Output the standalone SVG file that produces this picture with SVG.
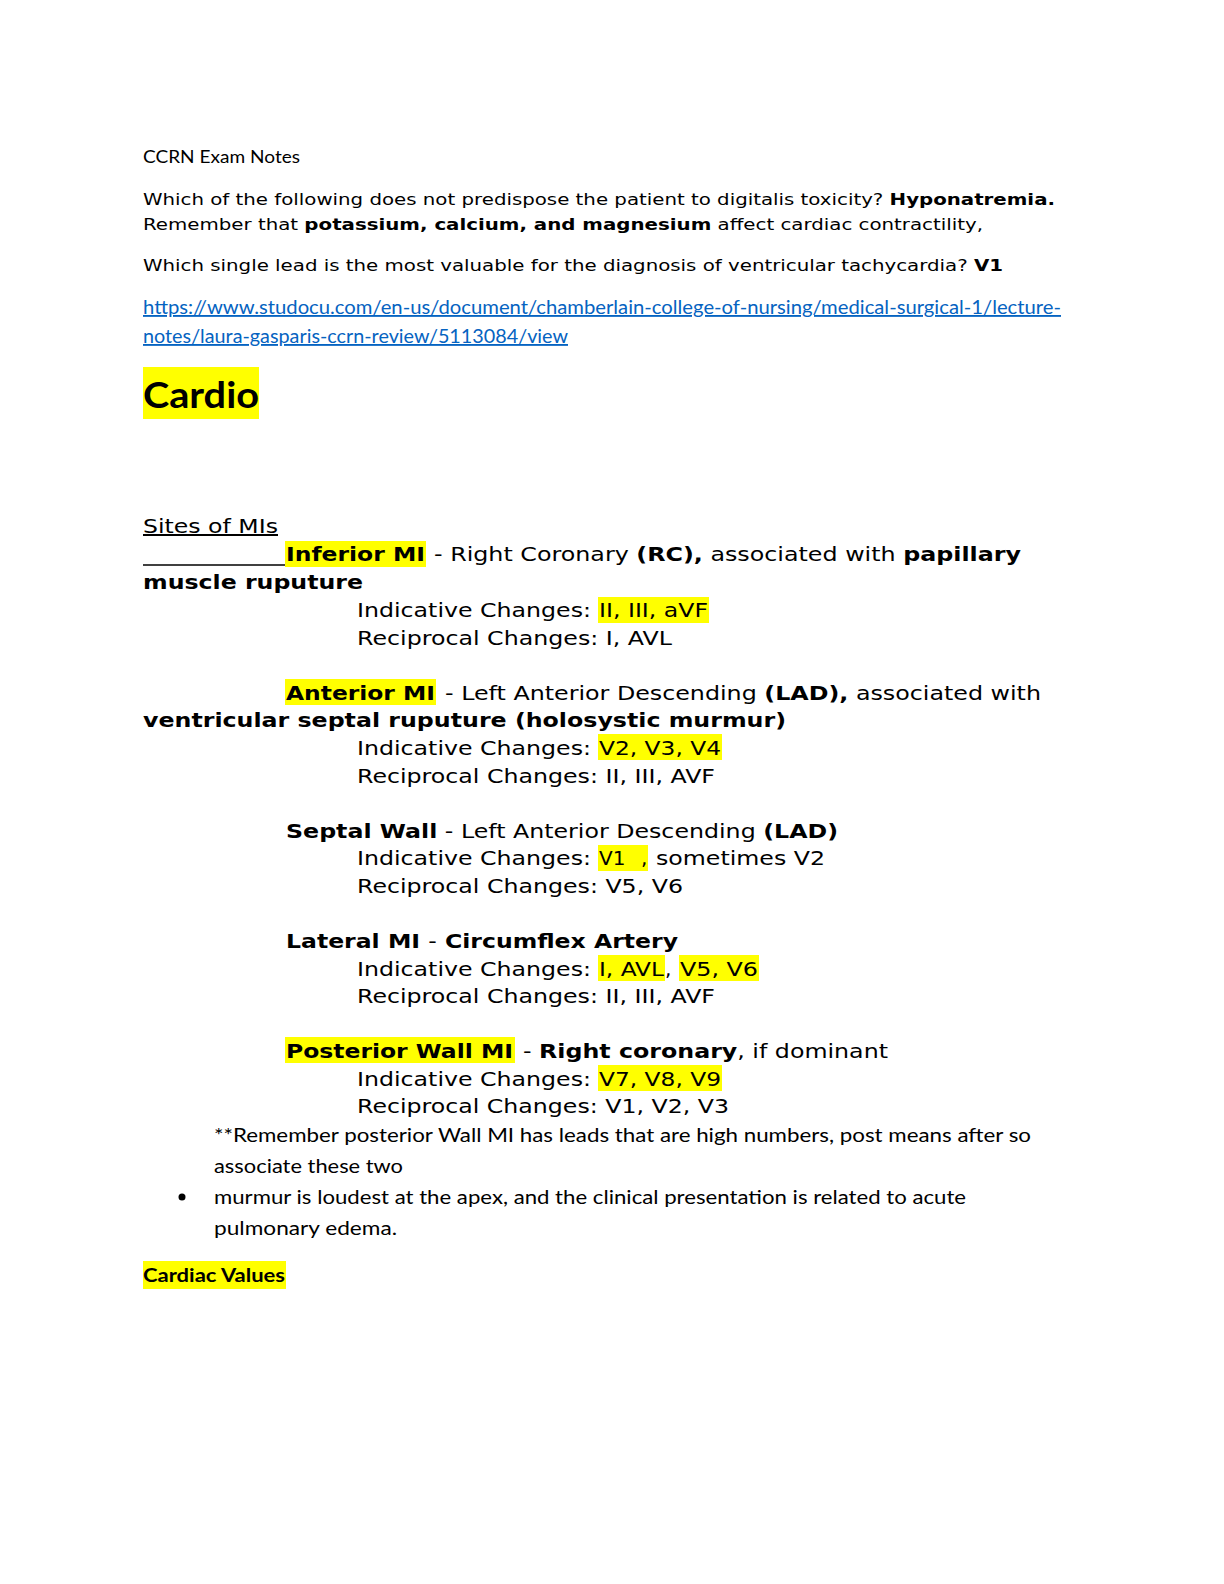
<svg xmlns="http://www.w3.org/2000/svg" width="1224" height="1584" viewBox="0 0 1224 1584">
<style>
.b{font-family:"DejaVu Sans",Verdana,sans-serif;font-size:16px;fill:#000}
.m{font-family:"DejaVu Sans",Verdana,sans-serif;font-size:20px;fill:#000}
.c{font-family:Lato,Carlito,"Liberation Sans",sans-serif;fill:#000}
.bold{font-weight:bold}
.hl{fill:#ffff00}
</style>
<rect width="1224" height="1584" fill="#fff"/>
<text class="c" x="143" y="163" font-size="17" textLength="157" lengthAdjust="spacingAndGlyphs">CCRN Exam Notes</text>
<text class="b" x="143" y="205" textLength="912" lengthAdjust="spacingAndGlyphs">Which of the following does not predispose the patient to digitalis toxicity? <tspan class="bold">Hyponatremia.</tspan></text>
<text class="b" x="143" y="230" textLength="840" lengthAdjust="spacingAndGlyphs">Remember that <tspan class="bold">potassium, calcium, and magnesium</tspan> affect cardiac contractility,</text>
<text class="b" x="143" y="271" textLength="860" lengthAdjust="spacingAndGlyphs">Which single lead is the most valuable for the diagnosis of ventricular tachycardia? <tspan class="bold">V1</tspan></text>
<g fill="#0563c1" font-family="Lato,Carlito,sans-serif" font-size="18.5" text-decoration="underline">
<text x="143" y="314" textLength="918" lengthAdjust="spacingAndGlyphs">https://www.studocu.com/en-us/document/chamberlain-college-of-nursing/medical-surgical-1/lecture-</text>
<text x="143" y="343" textLength="425" lengthAdjust="spacingAndGlyphs">notes/laura-gasparis-ccrn-review/5113084/view</text>
</g>
<rect class="hl" x="143" y="367" width="116" height="52"/>
<text class="c bold" x="143" y="408" font-size="37" textLength="116" lengthAdjust="spacingAndGlyphs">Cardio</text>

<text class="m" x="143" y="533" text-decoration="underline" textLength="135" lengthAdjust="spacingAndGlyphs">Sites of MIs</text>
<line x1="143" y1="565" x2="285" y2="565" stroke="#000" stroke-width="1.3"/>
<rect class="hl" x="285" y="541" width="141" height="26"/>
<text class="m bold" x="286" y="561" textLength="139" lengthAdjust="spacingAndGlyphs">Inferior MI</text>
<text class="m" x="434" y="561" textLength="587" lengthAdjust="spacingAndGlyphs">- Right Coronary <tspan class="bold">(RC),</tspan> associated with <tspan class="bold">papillary</tspan></text>
<text class="m bold" x="143" y="589" textLength="220" lengthAdjust="spacingAndGlyphs">muscle ruputure</text>
<rect class="hl" x="598" y="597" width="111" height="26"/>
<text class="m" x="357" y="617" textLength="234" lengthAdjust="spacingAndGlyphs">Indicative Changes:</text>
<text class="m" x="599" y="617" textLength="109" lengthAdjust="spacingAndGlyphs">II, III, aVF</text>
<text class="m" x="357" y="645" textLength="315" lengthAdjust="spacingAndGlyphs">Reciprocal Changes: I, AVL</text>

<rect class="hl" x="285" y="679" width="151" height="26"/>
<text class="m bold" x="286" y="700" textLength="149" lengthAdjust="spacingAndGlyphs">Anterior MI</text>
<text class="m" x="445" y="700" textLength="596" lengthAdjust="spacingAndGlyphs">- Left Anterior Descending <tspan class="bold">(LAD),</tspan> associated with</text>
<text class="m bold" x="143" y="727" textLength="643" lengthAdjust="spacingAndGlyphs">ventricular septal ruputure (holosystic murmur)</text>
<rect class="hl" x="598" y="734" width="124" height="26"/>
<text class="m" x="357" y="755" textLength="234" lengthAdjust="spacingAndGlyphs">Indicative Changes:</text>
<text class="m" x="599" y="755" textLength="122" lengthAdjust="spacingAndGlyphs">V2, V3, V4</text>
<text class="m" x="357" y="783" textLength="358" lengthAdjust="spacingAndGlyphs">Reciprocal Changes: II, III, AVF</text>

<text class="m" x="286" y="838" textLength="552" lengthAdjust="spacingAndGlyphs"><tspan class="bold">Septal Wall</tspan> - Left Anterior Descending <tspan class="bold">(LAD)</tspan></text>
<rect class="hl" x="598" y="845" width="50" height="26"/>
<text class="m" x="357" y="865" textLength="234" lengthAdjust="spacingAndGlyphs">Indicative Changes:</text>
<text class="m" x="599" y="865">V1</text><text class="m" x="641" y="865">,</text>
<text class="m" x="656" y="865" textLength="169" lengthAdjust="spacingAndGlyphs">sometimes V2</text>
<text class="m" x="357" y="893" textLength="326" lengthAdjust="spacingAndGlyphs">Reciprocal Changes: V5, V6</text>

<text class="m bold" x="286" y="948" textLength="392" lengthAdjust="spacingAndGlyphs">Lateral MI <tspan font-weight="normal">-</tspan> Circumflex Artery</text>
<rect class="hl" x="598" y="955" width="67" height="26"/>
<rect class="hl" x="679" y="955" width="80" height="26"/>
<text class="m" x="357" y="976" textLength="234" lengthAdjust="spacingAndGlyphs">Indicative Changes:</text>
<text class="m" x="599" y="976" textLength="65" lengthAdjust="spacingAndGlyphs">I, AVL</text>
<text class="m" x="665" y="976">,</text>
<text class="m" x="680" y="976" textLength="78" lengthAdjust="spacingAndGlyphs">V5, V6</text>
<text class="m" x="357" y="1003" textLength="358" lengthAdjust="spacingAndGlyphs">Reciprocal Changes: II, III, AVF</text>

<rect class="hl" x="285" y="1037" width="230" height="26"/>
<text class="m bold" x="286" y="1058" textLength="227" lengthAdjust="spacingAndGlyphs">Posterior Wall MI</text>
<text class="m" x="523" y="1058" textLength="365" lengthAdjust="spacingAndGlyphs">- <tspan class="bold">Right coronary</tspan>, if dominant</text>
<rect class="hl" x="598" y="1065" width="124" height="26"/>
<text class="m" x="357" y="1086" textLength="234" lengthAdjust="spacingAndGlyphs">Indicative Changes:</text>
<text class="m" x="599" y="1086" textLength="122" lengthAdjust="spacingAndGlyphs">V7, V8, V9</text>
<text class="m" x="357" y="1113" textLength="372" lengthAdjust="spacingAndGlyphs">Reciprocal Changes: V1, V2, V3</text>

<text class="c" x="214" y="1142" font-size="19.5" textLength="817" lengthAdjust="spacingAndGlyphs">**Remember posterior Wall MI has leads that are high numbers, post means after so</text>
<text class="c" x="214" y="1173" font-size="19.5" textLength="189" lengthAdjust="spacingAndGlyphs">associate these two</text>
<circle cx="182" cy="1197" r="3.5" fill="#000"/>
<text class="c" x="214" y="1204" font-size="19.5" textLength="752" lengthAdjust="spacingAndGlyphs">murmur is loudest at the apex, and the clinical presentation is related to acute</text>
<text class="c" x="214" y="1235" font-size="19.5" textLength="183" lengthAdjust="spacingAndGlyphs">pulmonary edema.</text>
<rect class="hl" x="143" y="1261" width="143" height="28"/>
<text class="c bold" x="143" y="1282" font-size="19.5" textLength="142" lengthAdjust="spacingAndGlyphs">Cardiac Values</text>
</svg>
